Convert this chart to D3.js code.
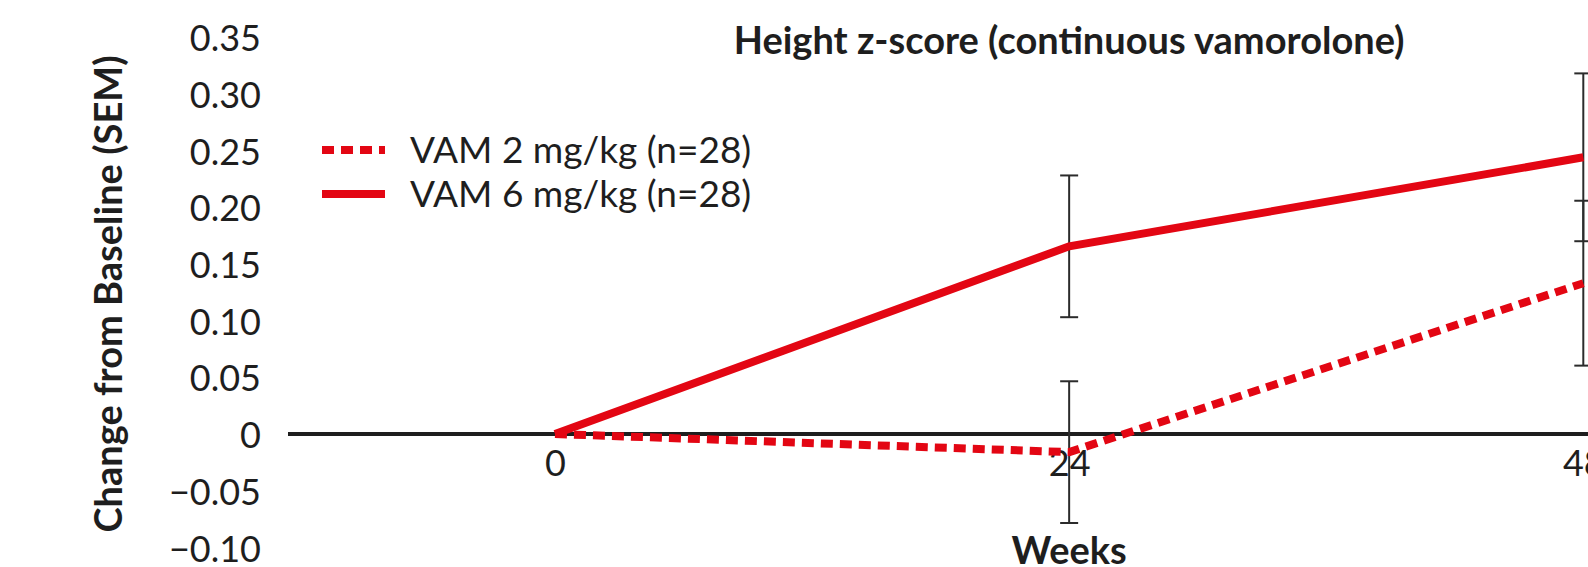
<!DOCTYPE html>
<html>
<head>
<meta charset="utf-8">
<script src="https://cdn.jsdelivr.net/npm/d3@7"></script>
<style>
  html, body { margin: 0; padding: 0; background: #ffffff; overflow: hidden; }
  svg { display: block; font-family: Lato, "Open Sans", sans-serif; }
</style>
</head>
<body>
<svg id="chart" width="1588" height="567"></svg>
<script>
// Height z-score change from baseline, continuous vamorolone groups
const weeks = [0, 24, 48];
const seriesNames = ["VAM 2 mg/kg (n=28)", "VAM 6 mg/kg (n=28)"];
const vam2Mean = [0, -0.016, 0.133];
const vam2Sem = [0, 0.0625, 0.0727];
const vam6Mean = [0, 0.1655, 0.244];
const vam6Sem = [0, 0.0625, 0.074];
const yTicks = [0.35, 0.30, 0.25, 0.20, 0.15, 0.10, 0.05, 0, -0.05, -0.10];
const yTickLabels = ["0.35", "0.30", "0.25", "0.20", "0.15", "0.10", "0.05", "0", "\u22120.05", "\u22120.10"];
const xTickLabels = ["0", "24", "48"];

const svg = d3.select("#chart");
const red = "#e30613";
const ink = "#1e1e1e";

const x = d3.scaleLinear().domain([0, 48]).range([555, 1583.3]);
const y = d3.scaleLinear().domain([-0.10, 0.35]).range([547.4, 37.1]);
const axisLeftEdge = 288;

// Y tick labels (no axis line drawn)
const yAxis = d3.axisLeft(y)
  .tickValues(yTicks)
  .tickFormat((d, i) => yTickLabels[i])
  .tickSize(0)
  .tickPadding(0);
const gy = svg.append("g").attr("transform", "translate(261,0)").call(yAxis);
gy.select(".domain").remove();
gy.selectAll("text")
  .attr("font-family", "Lato, sans-serif")
  .attr("font-size", 36)
  .attr("fill", ink)
  .attr("dy", "0.38em");

// Zero baseline
svg.append("line")
  .attr("x1", axisLeftEdge).attr("x2", 1600)
  .attr("y1", y(0)).attr("y2", y(0))
  .attr("stroke", ink).attr("stroke-width", 4);

// X tick labels below baseline
const xAxis = d3.axisBottom(x)
  .tickValues(weeks)
  .tickFormat((d, i) => xTickLabels[i])
  .tickSize(0)
  .tickPadding(0);
const gx = svg.append("g").attr("transform", `translate(0,${y(0) + 28})`).call(xAxis);
gx.select(".domain").remove();
gx.selectAll("text")
  .attr("font-family", "Lato, sans-serif")
  .attr("font-size", 36)
  .attr("fill", ink)
  .attr("dy", "0.38em");

// Error bars (mean ± SEM)
function errorBars(means, sems) {
  const pts = weeks.map((w, i) => ({ w, m: means[i], s: sems[i] })).filter(d => d.s > 0);
  const g = svg.append("g").attr("stroke", "#2b2b2b").attr("stroke-width", 2).attr("fill", "none");
  g.selectAll(".stem").data(pts).join("line")
    .attr("x1", d => x(d.w)).attr("x2", d => x(d.w))
    .attr("y1", d => y(d.m + d.s)).attr("y2", d => y(d.m - d.s));
  g.selectAll(".capTop").data(pts).join("line")
    .attr("x1", d => x(d.w) - 9).attr("x2", d => x(d.w) + 9)
    .attr("y1", d => y(d.m + d.s)).attr("y2", d => y(d.m + d.s));
  g.selectAll(".capBot").data(pts).join("line")
    .attr("x1", d => x(d.w) - 9).attr("x2", d => x(d.w) + 9)
    .attr("y1", d => y(d.m - d.s)).attr("y2", d => y(d.m - d.s));
}
errorBars(vam6Mean, vam6Sem);
errorBars(vam2Mean, vam2Sem);

// Series lines
const line = d3.line().x((d, i) => x(weeks[i])).y(d => y(d));
svg.append("path").datum(vam2Mean)
  .attr("d", line).attr("fill", "none")
  .attr("stroke", red).attr("stroke-width", 8)
  .attr("stroke-dasharray", "12,7");
svg.append("path").datum(vam6Mean)
  .attr("d", line).attr("fill", "none")
  .attr("stroke", red).attr("stroke-width", 8);

// Chart title
svg.append("text")
  .attr("x", x(24)).attr("y", 54)
  .attr("text-anchor", "middle")
  .attr("font-weight", 700).attr("font-size", 38).attr("fill", ink)
  .text("Height z-score (continuous vamorolone)");

// Axis titles
svg.append("text")
  .attr("transform", "translate(109,294) rotate(-90)")
  .attr("dy", "0.35em")
  .attr("text-anchor", "middle")
  .attr("font-weight", 700).attr("font-size", 38).attr("fill", ink)
  .text("Change from Baseline (SEM)");
svg.append("text")
  .attr("x", x(24)).attr("y", 564)
  .attr("text-anchor", "middle")
  .attr("font-weight", 700).attr("font-size", 38).attr("fill", ink)
  .text("Weeks");

// Legend
const legend = svg.append("g");
const legendRows = [
  { name: seriesNames[0], dash: "12,7", yPos: 150 },
  { name: seriesNames[1], dash: null, yPos: 194 }
];
legendRows.forEach(r => {
  legend.append("line")
    .attr("x1", 322).attr("x2", 385)
    .attr("y1", r.yPos).attr("y2", r.yPos)
    .attr("stroke", red).attr("stroke-width", 8)
    .attr("stroke-dasharray", r.dash);
  legend.append("text")
    .attr("x", 410).attr("y", r.yPos).attr("dy", "0.36em")
    .attr("font-size", 37).attr("fill", ink)
    .text(r.name);
});
</script>
</body>
</html>
